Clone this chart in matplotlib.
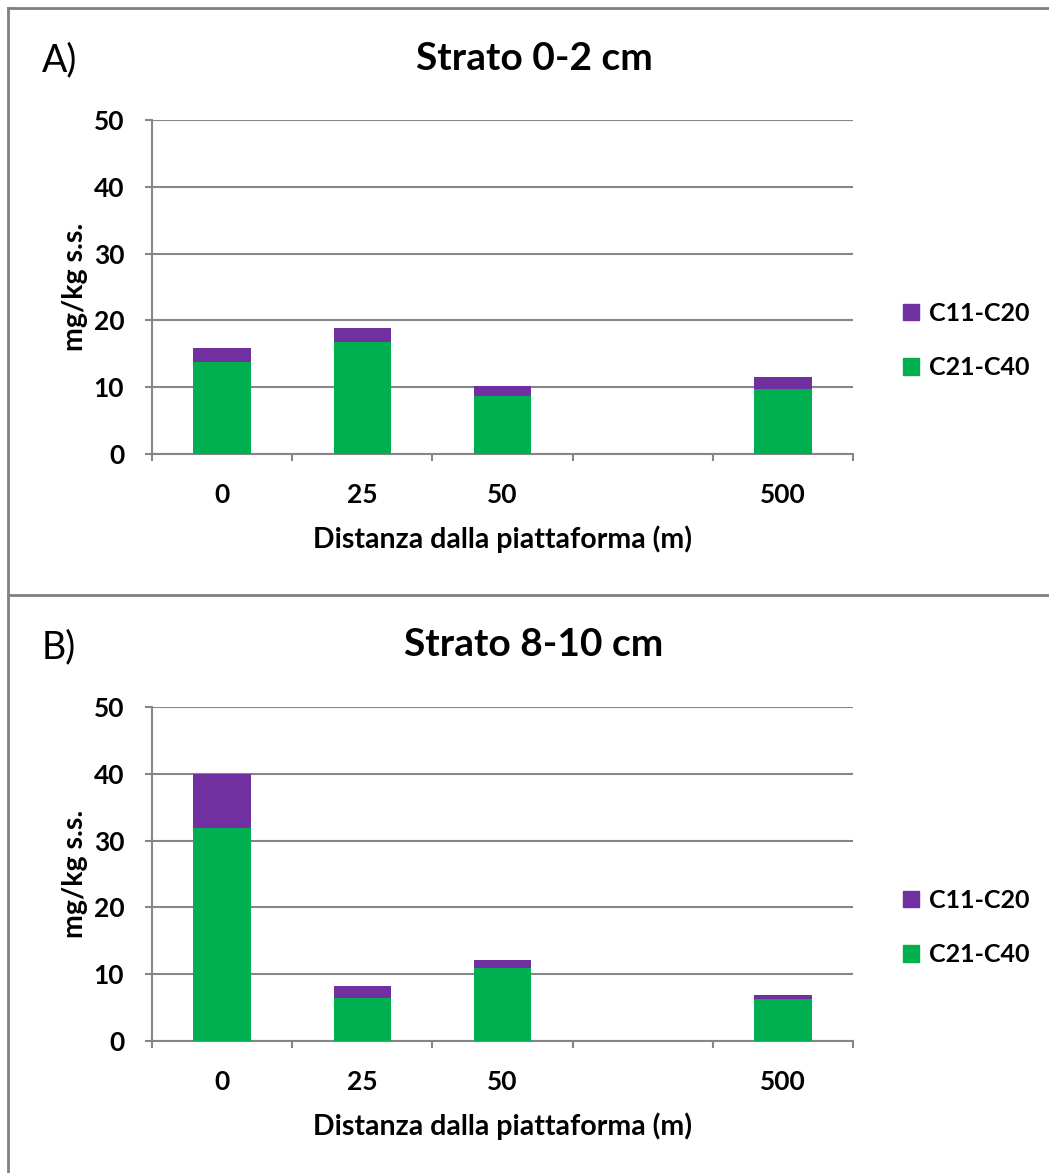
import matplotlib
matplotlib.use("Agg")
import matplotlib.pyplot as plt
from matplotlib.lines import Line2D
from matplotlib.patches import Patch
import numpy as np

plt.rcParams['font.family'] = ['Lato', 'DejaVu Sans']

categories = ["0", "25", "50", "", "500"]
positions = [0, 1, 2, 4]          # slot 3 is empty

# panel A: Strato 0-2 cm
a_c21_c40 = [13.8, 16.8, 8.7, 9.7]
a_c11_c20 = [2.0, 2.0, 1.5, 1.8]

# panel B: Strato 8-10 cm
b_c21_c40 = [31.9, 6.4, 11.0, 6.3]
b_c11_c20 = [8.1, 1.8, 1.1, 0.6]

titles = ["Strato 0-2 cm", "Strato 8-10 cm"]
panel_tags = ["A)", "B)"]

GREEN = "#00B050"
PURPLE = "#7030A0"
GRID = "#868686"

fig = plt.figure(figsize=(10.49, 11.73), dpi=100)

W, H = 1049, 1173


def px_axes(left, top, right, bottom):
    return [left / W, 1 - bottom / H, (right - left) / W, (bottom - top) / H]


def draw_panel(ax, green, purple, title, tag, top_px):
    ax.bar(positions, green, width=0.41, color=GREEN, zorder=3)
    ax.bar(positions, purple, width=0.41, bottom=green, color=PURPLE,
           zorder=3)
    ax.set_xlim(-0.5, 4.5)
    ax.set_ylim(0, 50)
    ax.set_yticks(np.arange(0, 51, 10))
    ax.yaxis.grid(True, color=GRID, linewidth=1.5, zorder=0)
    ax.set_xticks(np.arange(-0.5, 4.6, 1.0))
    ax.set_xticklabels([])
    ax.set_xticks(range(len(categories)), minor=True)
    ax.set_xticklabels(categories, minor=True)
    ax.tick_params(axis='x', which='minor', length=0, pad=21,
                   labelsize=19)
    ax.tick_params(axis='x', which='major', length=5, width=1.5,
                   color=GRID, direction='out')
    ax.tick_params(axis='y', length=5, width=1.5, color=GRID, pad=15,
                   labelsize=19)
    for lab in ax.get_xticklabels(minor=True) + ax.get_yticklabels():
        lab.set_fontweight('bold')
    for s in ['top', 'right']:
        ax.spines[s].set_visible(False)
    for s in ['left', 'bottom']:
        ax.spines[s].set_color(GRID)
        ax.spines[s].set_linewidth(1.5)
    ax.set_ylabel("mg/kg s.s.", fontsize=20.5, fontweight='bold',
                  labelpad=4)
    ax.set_xlabel("Distanza dalla piattaforma (m)", fontsize=20.5,
                  fontweight='bold', labelpad=13)

    fig.text(534 / W, 1 - (top_px - 62) / H, title, ha='center',
             va='center', fontsize=28, fontweight='bold')
    fig.text(42 / W, 1 - (top_px - 60) / H, tag, ha='left', va='center',
             fontsize=27)

    handles = [Patch(color=PURPLE, label="C11-C20"),
               Patch(color=GREEN, label="C21-C40")]
    ax.legend(handles=handles, loc='center left',
              bbox_to_anchor=(1.071, 0.34), frameon=False, borderpad=0,
              borderaxespad=0,
              prop={'weight': 'bold', 'size': 18}, handlelength=0.65,
              handleheight=0.65, handletextpad=0.4, labelspacing=1.25)


ax1 = fig.add_axes(px_axes(152, 120, 853, 454))
draw_panel(ax1, a_c21_c40, a_c11_c20, titles[0], panel_tags[0], 120)

ax2 = fig.add_axes(px_axes(152, 707, 853, 1041))
draw_panel(ax2, b_c21_c40, b_c11_c20, titles[1], panel_tags[1], 707)

# outer frames
frame = dict(color="#808080", linewidth=2, transform=fig.transFigure)
fig.add_artist(Line2D([8 / W, 1], [1 - 8 / H, 1 - 8 / H], **frame))
fig.add_artist(Line2D([8 / W, 8 / W], [0, 1 - 8 / H], **frame))
fig.add_artist(Line2D([8 / W, 1], [1 - 595 / H, 1 - 595 / H], **frame))

fig.savefig("out.png", dpi=100)
